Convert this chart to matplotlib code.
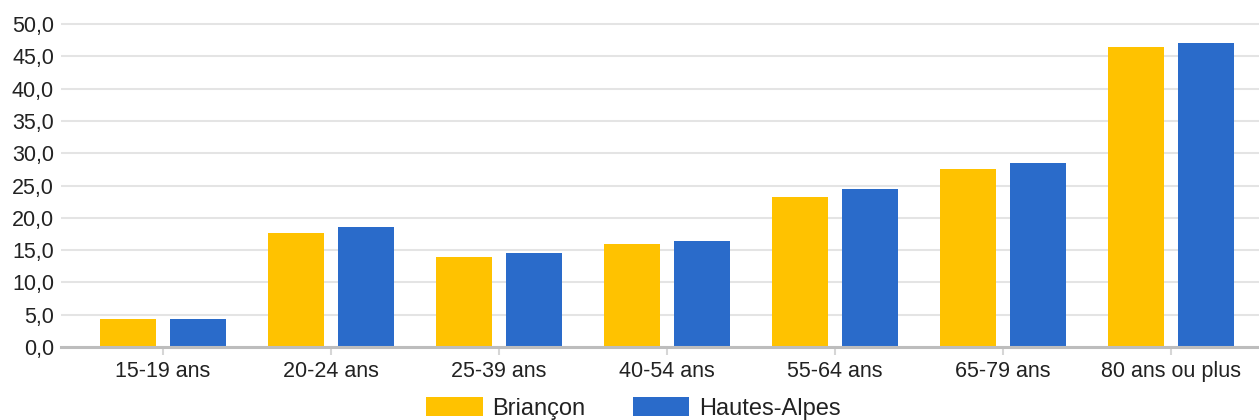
"""
Part de la population par tranche d'age - Briancon vs Hautes-Alpes
"""

import matplotlib
matplotlib.use("Agg")
import numpy as np
import matplotlib.pyplot as plt
from matplotlib.patches import Patch

# ----------------------------------------------------
# Data
# ----------------------------------------------------

categories = [
    "15-19 ans",
    "20-24 ans",
    "25-39 ans",
    "40-54 ans",
    "55-64 ans",
    "65-79 ans",
    "80 ans ou plus",
]

briancon = [4.3, 17.6, 13.9, 16.0, 23.2, 27.5, 46.4]

hautes_alpes = [4.3, 18.5, 14.5, 16.4, 24.5, 28.5, 47.0]

series_names = ["Briançon", "Hautes-Alpes"]

yticks = [0, 5, 10, 15, 20, 25, 30, 35, 40, 45, 50]

# ----------------------------------------------------
# Style
# ----------------------------------------------------

plt.rcParams["font.family"] = ["Liberation Sans", "DejaVu Sans"]

yellow = "#FFC200"
blue = "#2A6BCA"

# ----------------------------------------------------
# Figure
# ----------------------------------------------------

W, H = 1259, 420
fig = plt.figure(figsize=(W / 100, H / 100), dpi=100)

px_unit = 6.46
y_top = 51
ax = fig.add_axes([
    61 / W,
    (H - 347) / H,
    1 - 61 / W,
    y_top * px_unit / H,
])

x = np.arange(len(categories))
offset = 0.208
width = 0.333

ax.bar(x - offset, briancon, width, color=yellow, zorder=3)
ax.bar(x + offset, hautes_alpes, width, color=blue, zorder=3)

# axes limits so category centers fall where the reference has them
ax.set_xlim((61 - 163) / 168, (1259 - 163) / 168)
ax.set_ylim(0, y_top)

ax.set_yticks(yticks)
ax.set_yticklabels([f"{v:.1f}".replace(".", ",") for v in yticks])
ax.set_xticks(x)
ax.set_xticklabels(categories)

ax.yaxis.grid(True, color="#e4e4e4", linewidth=1.45, zorder=0)
ax.set_axisbelow(True)

for side in ["top", "right", "left"]:
    ax.spines[side].set_visible(False)

ax.spines["bottom"].set_color("#bdbdbd")
ax.spines["bottom"].set_linewidth(2.2)
ax.spines["bottom"].set_zorder(4)

ax.tick_params(axis="y", length=0, pad=5, labelsize=15.5, colors="#222222")
ax.tick_params(axis="x", length=6, width=1.5, color="#d6d6d6",
               pad=4, labelsize=15.5, labelcolor="#222222")

# ----------------------------------------------------
# Legend
# ----------------------------------------------------

handles = [
    Patch(facecolor=yellow, edgecolor="none"),
    Patch(facecolor=blue, edgecolor="none"),
]

fig.legend(
    handles,
    series_names,
    loc="lower center",
    bbox_to_anchor=(0.503, -0.05),
    ncol=2,
    frameon=False,
    fontsize=17,
    handlelength=2.4,
    handleheight=0.85,
    handletextpad=0.4,
    columnspacing=2.0,
    labelcolor="#222222",
)

plt.savefig("out.png", dpi=100)

plt.close()
